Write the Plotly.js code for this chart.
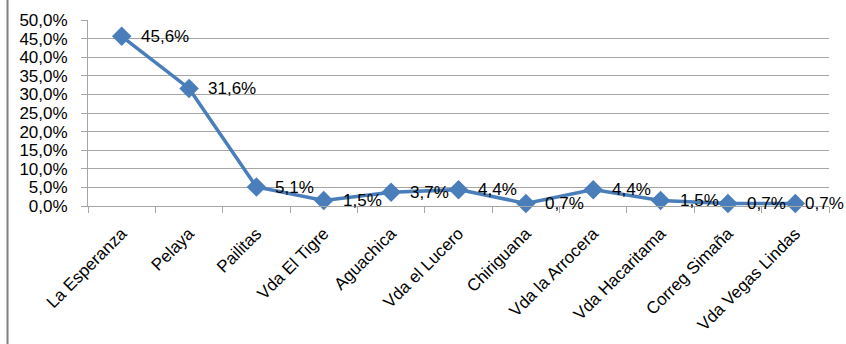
<!DOCTYPE html>
<html>
<head>
<meta charset="utf-8">
<script src="https://cdn.plot.ly/plotly-3.0.1.min.js"></script>
<style>
html,body{margin:0;padding:0;background:#fff;}
#chart{width:846px;height:344px;}
</style>
</head>
<body>
<div id="chart"></div>
<script>
const categories = ["La Esperanza","Pelaya","Pailitas","Vda El Tigre","Aguachica","Vda el Lucero","Chiriguana","Vda la Arrocera","Vda Hacaritama","Correg Simaña","Vda Vegas Lindas"];
const values = [45.6, 31.6, 5.1, 1.5, 3.7, 4.4, 0.7, 4.4, 1.5, 0.7, 0.7];
const labels = values.map(v => v.toFixed(1).replace('.', ',') + '%');

const font = {family: "Liberation Sans, Arial, sans-serif", size: 17, color: "#000"};

const trace = {
  x: categories,
  y: values,
  type: 'scatter',
  mode: 'lines+markers',
  line: {color: '#4A7EBB', width: 3.5},
  marker: {symbol: 'diamond', size: 15, color: '#4A7EBB'},
  cliponaxis: false,
  hoverinfo: 'skip'
};

const last = categories.length - 1;
const annotations = categories.map((c, i) => ({
  x: c, y: values[i], xref: 'x', yref: 'y',
  text: labels[i], showarrow: false,
  xanchor: 'left', yanchor: 'middle',
  xshift: i === last ? 8 : 17, yshift: 0,
  font: font
}));

const layout = {
  width: 846, height: 344,
  margin: {l: 88, r: 17, t: 20, b: 138},
  paper_bgcolor: '#fff', plot_bgcolor: '#fff',
  separators: ',.',
  font: font,
  showlegend: false,
  xaxis: {
    type: 'category',
    tickangle: -45,
    tickson: 'boundaries',
    ticks: 'outside', ticklen: 6, tickcolor: '#A6A6A6', tickwidth: 1,
    showline: true, linecolor: '#A6A6A6', linewidth: 1,
    showgrid: false,
    tickfont: font,
    ticklabelstandoff: 10,
    range: [-0.5, 10.5],
    fixedrange: true
  },
  yaxis: {
    range: [0, 50], dtick: 5, tick0: 0,
    tickformat: '.1f', ticksuffix: '%',
    ticks: 'outside', ticklen: 6, tickcolor: '#A6A6A6', tickwidth: 1,
    showline: true, linecolor: '#A6A6A6', linewidth: 1,
    showgrid: true, gridcolor: '#A6A6A6', gridwidth: 1,
    zeroline: false,
    tickfont: font,
    ticklabelstandoff: 10,
    fixedrange: true
  },
  annotations: annotations,
  shapes: [{
    type: 'line', xref: 'paper', yref: 'paper',
    x0: (7.5 - 88) / 741, x1: (7.5 - 88) / 741,
    y0: -2, y1: 2,
    line: {color: '#808080', width: 2}
  }]
};

Plotly.newPlot('chart', [trace], layout, {displayModeBar: false, staticPlot: true});
</script>
</body>
</html>
